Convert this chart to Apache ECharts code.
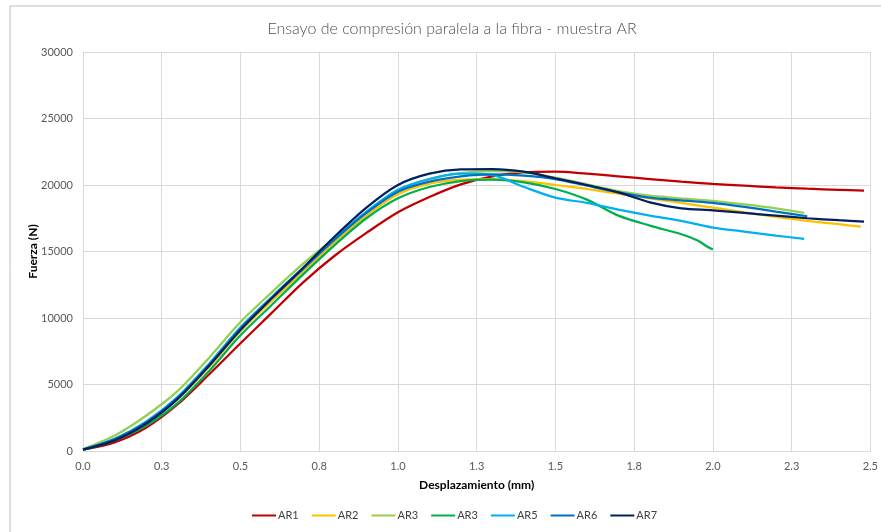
<!DOCTYPE html>
<html>
<head>
<meta charset="utf-8">
<script src="https://cdn.jsdelivr.net/npm/echarts@6/dist/echarts.min.js"></script>
<style>
  html, body { margin: 0; padding: 0; background: #ffffff; }
  #chart { width: 881px; height: 532px; }
</style>
</head>
<body>
<div id="chart"></div>
<script>
// Desplazamiento (mm) vs. fuerza (N) for each specimen
const ar1 = [[0,100],[0.1,650],[0.2,1750],[0.3,3500],[0.4,5750],[0.5,8100],[0.6,10400],[0.7,12700],[0.8,14700],[0.9,16400],[1.0,17950],[1.1,19100],[1.2,20050],[1.3,20650],[1.4,20950],[1.5,21000],[1.6,20850],[1.7,20650],[1.8,20450],[1.9,20250],[2.0,20080],[2.1,19950],[2.2,19820],[2.3,19720],[2.4,19640],[2.48,19570]];
const ar2 = [[0,100],[0.1,850],[0.2,2050],[0.3,3900],[0.4,6300],[0.5,9000],[0.6,11300],[0.7,13500],[0.8,15700],[0.9,17700],[1.0,19300],[1.1,20100],[1.2,20400],[1.3,20450],[1.4,20300],[1.5,20000],[1.6,19700],[1.7,19350],[1.8,19000],[1.9,18650],[2.0,18300],[2.1,17950],[2.2,17600],[2.3,17300],[2.4,17050],[2.47,16870]];
const ar3a = [[0,150],[0.1,1150],[0.2,2650],[0.3,4500],[0.4,7000],[0.5,9700],[0.6,11950],[0.7,14100],[0.8,16050],[0.9,17950],[1.0,19600],[1.1,20450],[1.2,20900],[1.3,21050],[1.4,20950],[1.5,20550],[1.6,20050],[1.7,19550],[1.8,19200],[1.9,19000],[2.0,18800],[2.1,18550],[2.2,18250],[2.29,17900]];
const ar3b = [[0,100],[0.1,800],[0.2,1900],[0.3,3600],[0.4,6000],[0.5,8700],[0.6,11000],[0.7,13300],[0.8,15500],[0.9,17500],[1.0,19000],[1.1,19850],[1.2,20300],[1.3,20400],[1.4,20200],[1.5,19700],[1.6,18900],[1.7,17700],[1.8,16950],[1.9,16300],[1.95,15850],[1.98,15400],[2.0,15150]];
const ar5 = [[0,100],[0.1,900],[0.2,2200],[0.3,4050],[0.4,6550],[0.5,9300],[0.6,11600],[0.7,13800],[0.8,16000],[0.9,18000],[1.0,19650],[1.1,20450],[1.2,20850],[1.3,20750],[1.4,19850],[1.5,19050],[1.6,18650],[1.7,18150],[1.8,17700],[1.9,17300],[2.0,16800],[2.1,16500],[2.2,16200],[2.29,15950]];
const ar6 = [[0,100],[0.1,900],[0.2,2150],[0.3,4000],[0.4,6450],[0.5,9200],[0.6,11500],[0.7,13700],[0.8,15900],[0.9,17900],[1.0,19500],[1.1,20250],[1.2,20650],[1.3,20800],[1.4,20700],[1.5,20450],[1.6,19950],[1.7,19450],[1.8,19050],[1.9,18850],[2.0,18650],[2.1,18350],[2.2,18000],[2.3,17650]];
const ar7 = [[0,100],[0.1,800],[0.2,2050],[0.3,3900],[0.4,6400],[0.5,9100],[0.6,11500],[0.7,13800],[0.8,16150],[0.9,18300],[1.0,20000],[1.1,20850],[1.2,21180],[1.3,21200],[1.4,21000],[1.5,20500],[1.6,20000],[1.7,19450],[1.8,18700],[1.9,18250],[2.0,18100],[2.1,17900],[2.2,17700],[2.3,17500],[2.4,17350],[2.48,17250]];

const seriesKeys = ['AR1', 'AR2', 'AR3', 'AR3b', 'AR5', 'AR6', 'AR7'];
const seriesLabels = ['AR1', 'AR2', 'AR3', 'AR3', 'AR5', 'AR6', 'AR7'];
const seriesData = [ar1, ar2, ar3a, ar3b, ar5, ar6, ar7];
const seriesColors = ['#C00000', '#FFC000', '#92D050', '#00B050', '#00B0F0', '#0070C0', '#002060'];

const xTickLabels = ['0.0', '0.3', '0.5', '0.8', '1.0', '1.3', '1.5', '1.8', '2.0', '2.3', '2.5'];
const xStep = 0.25;

const FONT = 'Lato, "Open Sans", sans-serif';
const chart = echarts.init(document.getElementById('chart'), null, { renderer: 'canvas' });

chart.setOption({
  animation: false,
  backgroundColor: '#ffffff',
  graphic: [{
    type: 'rect',
    shape: { x: 10, y: 6, width: 900, height: 600 },
    style: { fill: 'none', stroke: '#BFBFBF', lineWidth: 1 },
    silent: true,
    z: -10
  }],
  title: {
    text: 'Ensayo de compresión paralela a la fibra - muestra AR',
    left: 447,
    top: 16,
    textAlign: 'center',
    textStyle: { fontFamily: FONT, fontSize: 16, fontWeight: 300, color: '#505050' }
  },
  legend: {
    bottom: 6,
    left: 247,
    itemWidth: 24,
    itemHeight: 10,
    itemGap: 13,
    icon: 'path://M0,4 L24,4 L24,6 L0,6 Z',
    data: seriesKeys,
    formatter: function (name) { return seriesLabels[seriesKeys.indexOf(name)]; },
    textStyle: { fontFamily: FONT, fontSize: 11, color: '#404040', padding: [0, 0, 0, -3] }
  },
  grid: { left: 83, right: 10.5, top: 52, bottom: 81, containLabel: false },
  xAxis: {
    type: 'value',
    min: 0,
    max: 2.5,
    interval: xStep,
    name: 'Desplazamiento (mm)',
    nameLocation: 'middle',
    nameGap: 28,
    nameMoveOverlap: false,
    nameTextStyle: { fontFamily: FONT, fontSize: 12, fontWeight: 'bold', color: '#000000' },
    axisLine: { show: true, lineStyle: { color: '#D9D9D9', width: 1 } },
    axisTick: { show: false },
    splitLine: { show: true, lineStyle: { color: '#D9D9D9', width: 1 } },
    axisLabel: {
      fontFamily: FONT, fontSize: 11, color: '#595959', margin: 10,
      formatter: function (v) { return xTickLabels[Math.round(v / xStep)]; }
    }
  },
  yAxis: {
    type: 'value',
    min: 0,
    max: 30000,
    interval: 5000,
    name: 'Fuerza (N)',
    nameLocation: 'middle',
    nameGap: 44,
    nameMoveOverlap: false,
    nameTextStyle: { fontFamily: FONT, fontSize: 12, fontWeight: 'bold', color: '#000000' },
    axisLine: { show: false },
    axisTick: { show: false },
    splitLine: { show: true, lineStyle: { color: '#D9D9D9', width: 1 } },
    axisLabel: {
      fontFamily: FONT, fontSize: 11, color: '#595959', margin: 10,
      formatter: function (v) { return String(v); }
    }
  },
  series: seriesKeys.map(function (key, i) {
    return {
      name: key,
      type: 'line',
      data: seriesData[i],
      smooth: 0.3,
      symbol: 'none',
      color: seriesColors[i],
      lineStyle: { width: 2.25, color: seriesColors[i] },
      z: 2 + i
    };
  })
});
</script>
</body>
</html>
